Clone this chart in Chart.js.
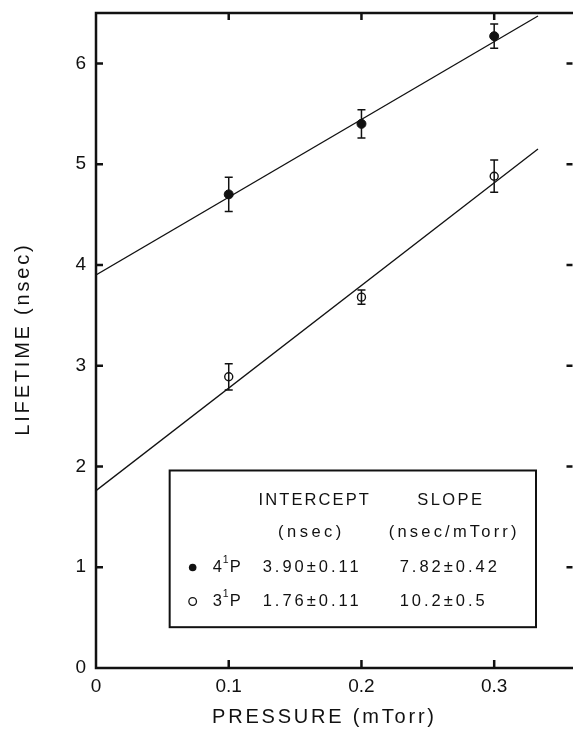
<!DOCTYPE html>
<html>
<head>
<meta charset="utf-8">
<script src="https://cdn.jsdelivr.net/npm/chart.js@4.4.1/dist/chart.umd.min.js"></script>
<style>
  html, body { margin: 0; padding: 0; background: #fff; overflow: hidden; }
  #wrap { width: 578px; height: 732px; }
</style>
</head>
<body>
<div id="wrap"><canvas id="lifetimeChart" width="578" height="732"></canvas></div>
<script>
// data
const pressure = [0.1, 0.2, 0.3];
const life4P = [4.70, 5.40, 6.27];
const err4P = [0.17, 0.14, 0.12];
const life3P = [2.89, 3.68, 4.88];
const err3P = [0.13, 0.07, 0.16];

// fitted lines (end points as drawn)
const fitX = [0, 0.333];
const fit4P = [3.90, 6.47];
const fit3P = [1.76, 5.15];

const xTicks = [0, 0.1, 0.2, 0.3];
const yTicks = [0, 1, 2, 3, 4, 5, 6];

const tableHead = ['INTERCEPT', 'SLOPE'];
const tableUnits = ['(nsec)', '(nsec/mTorr)'];
const tableStates = [['4', '1', 'P'], ['3', '1', 'P']];
const tableIntercepts = ['3.90±0.11', '1.76±0.11'];
const tableSlopes = ['7.82±0.42', '10.2±0.5'];

const FONT = '"Liberation Sans", Arial, sans-serif';

function pts(xs, ys) {
    return xs.map((x, i) => ({ x: x, y: ys[i] }));
}

// centred text that ignores the trailing letter spacing
function spacedCenter(ctx, text, x, y, sp) {
    ctx.letterSpacing = sp + 'px';
    const w = ctx.measureText(text).width - sp;
    ctx.textAlign = 'left';
    ctx.fillText(text, x - w / 2, y);
}

// error bars, ticks, frame, axis titles, table
const extras = {
    id: 'extras',
    afterDatasetsDraw(chart) {
        const ctx = chart.ctx;
        const xs = chart.scales.x;
        const ys = chart.scales.y;
        const a = chart.chartArea;

        ctx.save();
        ctx.strokeStyle = '#111';
        // error bars
        ctx.lineWidth = 1.5;
        [[life4P, err4P], [life3P, err3P]].forEach(function(s) {
            pressure.forEach(function(p, i) {
                const px = xs.getPixelForValue(p);
                const top = ys.getPixelForValue(s[0][i] + s[1][i]);
                const bot = ys.getPixelForValue(s[0][i] - s[1][i]);
                ctx.beginPath();
                ctx.moveTo(px, top); ctx.lineTo(px, bot);
                ctx.moveTo(px - 4, top); ctx.lineTo(px + 4, top);
                ctx.moveTo(px - 4, bot); ctx.lineTo(px + 4, bot);
                ctx.stroke();
            });
        });

        // frame (right side lies just outside the picture)
        ctx.lineWidth = 2.5;
        ctx.beginPath();
        ctx.moveTo(a.right + 2, a.top);
        ctx.lineTo(a.left, a.top);
        ctx.lineTo(a.left, a.bottom);
        ctx.lineTo(a.right + 2, a.bottom);
        ctx.stroke();

        // inward ticks
        ctx.beginPath();
        xTicks.slice(1).forEach(function(v) {
            const px = xs.getPixelForValue(v);
            ctx.moveTo(px, a.bottom); ctx.lineTo(px, a.bottom - 8);
            ctx.moveTo(px, a.top); ctx.lineTo(px, a.top + 7);
        });
        yTicks.slice(1).forEach(function(v) {
            const py = ys.getPixelForValue(v);
            ctx.moveTo(a.left, py); ctx.lineTo(a.left + 7, py);
            ctx.moveTo(a.right, py); ctx.lineTo(a.right - 6, py);
        });
        ctx.stroke();

        // axis titles
        ctx.fillStyle = '#111';
        ctx.font = '20px ' + FONT;
        ctx.textBaseline = 'middle';
        spacedCenter(ctx, 'PRESSURE (mTorr)', 323, 717, 2.8);
        ctx.save();
        ctx.translate(23, (a.top + a.bottom) / 2);
        ctx.rotate(-Math.PI / 2);
        spacedCenter(ctx, 'LIFETIME (nsec)', 0, 0, 2.8);
        ctx.restore();

        // table box
        const bx0 = xs.getPixelForValue(0.0555);
        const bx1 = xs.getPixelForValue(0.3315);
        const by0 = ys.getPixelForValue(1.96);
        const by1 = ys.getPixelForValue(0.405);
        ctx.fillStyle = '#fff';
        ctx.fillRect(bx0, by0, bx1 - bx0, by1 - by0);
        ctx.lineWidth = 2;
        ctx.strokeRect(bx0, by0, bx1 - bx0, by1 - by0);

        ctx.fillStyle = '#111';
        ctx.font = '16.5px ' + FONT;
        spacedCenter(ctx, tableHead[0], bx0 + 144, by0 + 30, 2.1);
        spacedCenter(ctx, tableHead[1], bx0 + 280, by0 + 30, 2.4);
        spacedCenter(ctx, tableUnits[0], bx0 + 140, by0 + 62, 3.5);
        spacedCenter(ctx, tableUnits[1], bx0 + 283, by0 + 62, 3.2);

        ctx.textAlign = 'left';
        [0, 1].forEach(function(r) {
            const ry = by0 + 97 + r * 34;
            const mx = bx0 + 23;
            ctx.beginPath();
            ctx.arc(mx, ry, 3.8, 0, Math.PI * 2);
            if (r === 0) {
                ctx.fill();
            } else {
                ctx.lineWidth = 1.3;
                ctx.stroke();
            }
            const st = tableStates[r];
            ctx.font = '16.5px ' + FONT;
            ctx.letterSpacing = '1px';
            let tx = bx0 + 43;
            ctx.fillText(st[0], tx, ry);
            tx += ctx.measureText(st[0]).width;
            ctx.font = '10.5px ' + FONT;
            ctx.letterSpacing = '0px';
            ctx.fillText(st[1], tx, ry - 7);
            tx += ctx.measureText(st[1]).width + 1;
            ctx.font = '16.5px ' + FONT;
            ctx.fillText(st[2], tx, ry);
            ctx.letterSpacing = '3px';
            ctx.fillText(tableIntercepts[r], bx0 + 93, ry);
            ctx.fillText(tableSlopes[r], bx0 + 230, ry);
        });
        ctx.restore();
    }
};

new Chart(document.getElementById('lifetimeChart'), {
    type: 'scatter',
    data: {
        datasets: [
            {
                label: 'fit 4P',
                type: 'line',
                data: pts(fitX, fit4P),
                borderColor: '#111',
                borderWidth: 1.3,
                pointRadius: 0,
                fill: false
            },
            {
                label: 'fit 3P',
                type: 'line',
                data: pts(fitX, fit3P),
                borderColor: '#111',
                borderWidth: 1.3,
                pointRadius: 0,
                fill: false
            },
            {
                label: '4P',
                data: pts(pressure, life4P),
                pointRadius: 4.5,
                pointBackgroundColor: '#111',
                pointBorderColor: '#111',
                pointBorderWidth: 1
            },
            {
                label: '3P',
                data: pts(pressure, life3P),
                pointRadius: 4,
                pointBackgroundColor: '#fff',
                pointBorderColor: '#111',
                pointBorderWidth: 1.4
            }
        ]
    },
    options: {
        responsive: false,
        animation: false,
        layout: { padding: { top: 13, right: 2, left: 0, bottom: 0 } },
        plugins: {
            legend: { display: false },
            tooltip: { enabled: false }
        },
        scales: {
            x: {
                type: 'linear',
                min: 0,
                max: 0.359,
                afterFit: function(s) {
                    s.height = 64;
                    s.paddingLeft = 0;
                    s.paddingRight = 0;
                },
                afterBuildTicks: function(s) {
                    s.ticks = xTicks.map(v => ({ value: v }));
                },
                grid: { display: false, drawTicks: false },
                border: { display: false },
                ticks: {
                    color: '#111',
                    font: { family: FONT, size: 19 },
                    padding: 7,
                    maxRotation: 0,
                    callback: v => (v === 0 ? '0' : v.toFixed(1))
                }
            },
            y: {
                type: 'linear',
                min: 0,
                max: 6.5,
                afterFit: function(s) {
                    s.width = 96;
                    s.paddingTop = 0;
                    s.paddingBottom = 0;
                },
                afterBuildTicks: function(s) {
                    s.ticks = yTicks.map(v => ({ value: v }));
                },
                grid: { display: false, drawTicks: false },
                border: { display: false },
                ticks: {
                    color: '#111',
                    font: { family: FONT, size: 19 },
                    padding: 10,
                    callback: v => String(v)
                }
            }
        }
    },
    plugins: [extras]
});
</script>
</body>
</html>
